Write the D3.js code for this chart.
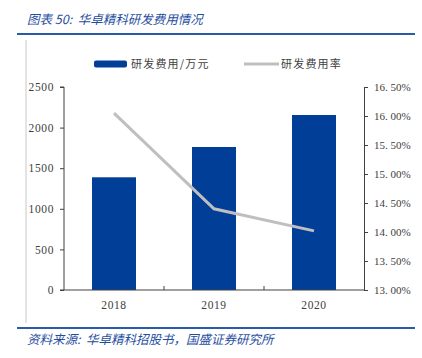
<!DOCTYPE html>
<html><head><meta charset="utf-8">
<script src="https://cdn.jsdelivr.net/npm/d3@7"></script>
<style>body{margin:0;background:#fff}svg{display:block}</style>
</head><body>
<svg id="c" width="422" height="358"></svg>
<script>
const categories = ["2018","2019","2020"];
const rdExpense = [1388, 1761, 2155];
const rdRate = [16.05, 14.40, 14.02];
const leftTicks = [0,500,1000,1500,2000,2500];
const rightTicks = [13.0,13.5,14.0,14.5,15.0,15.5,16.0,16.5];
const titleText = "图表 50:\u00a0\u00a0华卓精科研发费用情况";
const sourceText = "资料来源:\u00a0\u00a0华卓精科招股书，国盛证券研究所";
const legendLabels = ["研发费用/万元","研发费用率"];

const svg = d3.select("#c");
const m = {l:64, r:364, t:87, b:290};
const blue = "#003e98", gray = "#bfbfbf", axisC = "#404040", txtC = "#404040";
const serif = "'Liberation Serif','Times New Roman',serif";
const cjk = "'Noto Sans CJK SC',sans-serif";

// frame
svg.append("line").attr("x1",26).attr("x2",26).attr("y1",40).attr("y2",323).attr("stroke","#c8c8c8").attr("stroke-width",1);
svg.append("line").attr("x1",17).attr("x2",415).attr("y1",34).attr("y2",34).attr("stroke","#2a5ba8").attr("stroke-width",2);
svg.append("line").attr("x1",17).attr("x2",415).attr("y1",328).attr("y2",328).attr("stroke","#2a5ba8").attr("stroke-width",2);
svg.append("text").attr("x",27).attr("y",24).attr("font-family",cjk).attr("font-size",12.5).attr("font-style","italic").attr("fill","#1f4e9e").text(titleText);
svg.append("text").attr("x",27).attr("y",344).attr("font-family",cjk).attr("font-size",12.5).attr("font-style","italic").attr("fill","#1f4e9e").text(sourceText);

const xb = d3.scaleBand().domain(categories).range([m.l,m.r]);
const yL = d3.scaleLinear().domain([0,2500]).range([m.b,m.t]);
const yR = d3.scaleLinear().domain([13,16.5]).range([m.b,m.t]);

// bars
svg.append("g").selectAll("rect").data(categories).join("rect")
  .attr("x",d=>xb(d)+xb.bandwidth()/2-22).attr("width",44)
  .attr("y",(d,i)=>yL(rdExpense[i])).attr("height",(d,i)=>m.b-yL(rdExpense[i]))
  .attr("fill",blue);

// line
const line = d3.line().x((d,i)=>xb(categories[i])+xb.bandwidth()/2).y(d=>yR(d));
svg.append("path").datum(rdRate).attr("d",line).attr("fill","none").attr("stroke",gray).attr("stroke-width",3);

// left axis
const gl = svg.append("g").attr("transform",`translate(${m.l},0)`)
  .call(d3.axisLeft(yL).tickValues(leftTicks).tickFormat(d3.format("d")).tickSize(4).tickPadding(6));
gl.selectAll("path,line").attr("stroke",axisC);
gl.selectAll("text").attr("font-family",serif).attr("font-size",11.5).attr("fill",txtC).attr("letter-spacing","0.6px");
gl.select(".domain").attr("d",`M-4,${m.t}H0V${m.b}H-4`);

// right axis
const gr = svg.append("g").attr("transform",`translate(${m.r},0)`)
  .call(d3.axisRight(yR).tickValues(rightTicks).tickSize(4).tickPadding(6).tickFormat(d=>d.toFixed(2).replace(".",".\u00a0")+"%"));
gr.selectAll("path,line").attr("stroke",axisC);
gr.selectAll("text").attr("font-family",serif).attr("font-size",11).attr("fill",txtC);

// bottom axis
const gb = svg.append("g").attr("transform",`translate(0,${m.b})`)
  .call(d3.axisBottom(xb).tickSize(0).tickPadding(11));
gb.select(".domain").attr("d",`M${m.l},0H${m.r}`).attr("stroke",axisC);
gb.selectAll("text").attr("font-family",serif).attr("font-size",11.5).attr("fill",txtC).attr("letter-spacing","0.6px");
svg.append("g").selectAll("line").data(categories.slice(1)).join("line")
  .attr("x1",d=>xb(d)).attr("x2",d=>xb(d)).attr("y1",m.b-4).attr("y2",m.b).attr("stroke",axisC);

// legend
const lg = svg.append("g").attr("font-family",cjk).attr("font-size",11).attr("fill",txtC);
lg.append("rect").attr("x",94).attr("y",60.5).attr("width",33).attr("height",7).attr("rx",2).attr("fill",blue);
lg.append("text").attr("x",131).attr("y",68).attr("fill",txtC).attr("letter-spacing","1.2px").text(legendLabels[0]);
lg.append("line").attr("x1",244).attr("x2",279).attr("y1",64).attr("y2",64).attr("stroke",gray).attr("stroke-width",3);
lg.append("text").attr("x",281).attr("y",68).attr("fill",txtC).attr("letter-spacing","1.2px").text(legendLabels[1]);
</script>
</body></html>
